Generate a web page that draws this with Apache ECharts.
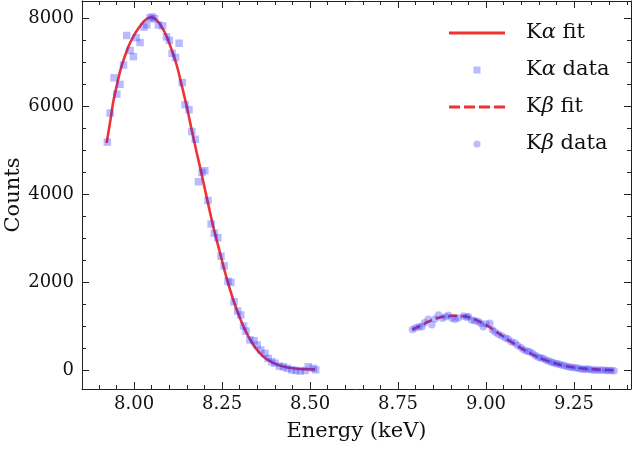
<!DOCTYPE html>
<html>
<head>
<meta charset="utf-8">
<script src="https://cdn.jsdelivr.net/npm/echarts@6/dist/echarts.min.js"></script>
<style>
  html, body { margin: 0; padding: 0; background: #fff; }
  #main { width: 640px; height: 449px; }
</style>
</head>
<body>
<div id="main"></div>
<script>
// K-alpha fit curve [energy keV, counts]
const kaFit = [
  [7.922, 5170], [7.932, 5650], [7.941, 6110], [7.951, 6480], [7.960, 6790],
  [7.970, 7050], [7.984, 7360], [7.998, 7590], [8.013, 7780], [8.027, 7925],
  [8.041, 8010], [8.050, 8025], [8.064, 7960], [8.078, 7810], [8.093, 7580],
  [8.107, 7280], [8.121, 6940], [8.135, 6490], [8.149, 6020], [8.164, 5460],
  [8.178, 4950], [8.188, 4600], [8.206, 3950], [8.225, 3270], [8.244, 2680],
  [8.263, 2100], [8.282, 1605], [8.301, 1190], [8.320, 850], [8.339, 585],
  [8.358, 395], [8.377, 260], [8.405, 145], [8.433, 80], [8.462, 45],
  [8.491, 32], [8.514, 30]
];

// K-alpha measured points
const kaData = [
  [7.924, 5190], [7.932, 5850], [7.943, 6650], [7.951, 6280], [7.960, 6500],
  [7.970, 6940], [7.979, 7610], [7.989, 7270], [7.998, 7130], [8.006, 7560],
  [8.017, 7450], [8.028, 7800], [8.036, 7850], [8.045, 8010], [8.052, 8030],
  [8.058, 7990], [8.069, 7850], [8.081, 7830], [8.092, 7580], [8.100, 7500],
  [8.108, 7205], [8.118, 7110], [8.128, 7435], [8.137, 6540], [8.145, 6040],
  [8.156, 5925], [8.164, 5430], [8.174, 5255], [8.183, 4290], [8.193, 4500],
  [8.201, 4540], [8.210, 3865], [8.219, 3330], [8.228, 3120], [8.238, 3020],
  [8.247, 2600], [8.256, 2380], [8.267, 2030], [8.275, 2005], [8.284, 1565],
  [8.294, 1355], [8.303, 1265], [8.311, 1015], [8.318, 900], [8.329, 700],
  [8.341, 680], [8.350, 585], [8.360, 470], [8.372, 395], [8.381, 280],
  [8.391, 205], [8.400, 170], [8.413, 105], [8.424, 90], [8.435, 55],
  [8.448, 20], [8.460, 5], [8.472, -5], [8.486, 5], [8.495, 90],
  [8.509, 55], [8.516, 20]
];

// K-beta fit curve
const kbFit = [
  [8.790, 930], [8.810, 1010], [8.830, 1090], [8.850, 1160], [8.870, 1210],
  [8.890, 1240], [8.910, 1250], [8.930, 1245], [8.950, 1220], [8.970, 1160],
  [8.990, 1080], [9.010, 990], [9.030, 880], [9.050, 770], [9.070, 660],
  [9.090, 560], [9.110, 460], [9.130, 375], [9.150, 300], [9.170, 235],
  [9.190, 180], [9.210, 135], [9.230, 100], [9.250, 75], [9.270, 55],
  [9.290, 40], [9.310, 30], [9.330, 20], [9.350, 15], [9.364, 12]
];

// K-beta measured points
const kbData = [
  [8.791, 935], [8.800, 975], [8.810, 1000], [8.818, 1000], [8.825, 1090],
  [8.836, 1170], [8.846, 1045], [8.855, 1175], [8.865, 1265], [8.876, 1190],
  [8.885, 1225], [8.893, 1260], [8.903, 1190], [8.912, 1170], [8.921, 1195],
  [8.936, 1245], [8.945, 1215], [8.950, 1230], [8.959, 1150], [8.968, 1135],
  [8.978, 1120], [8.985, 1080], [8.992, 1000], [9.000, 1060], [9.011, 1075],
  [9.018, 930], [9.026, 880], [9.035, 830], [9.045, 790], [9.055, 740],
  [9.063, 720], [9.072, 660], [9.082, 630], [9.090, 570], [9.100, 520],
  [9.108, 470], [9.117, 440], [9.124, 430], [9.133, 390], [9.141, 340],
  [9.149, 305], [9.156, 290], [9.163, 280], [9.171, 240], [9.178, 220],
  [9.186, 195], [9.192, 180], [9.200, 160], [9.207, 150], [9.214, 130],
  [9.222, 120], [9.230, 95], [9.238, 85], [9.246, 75], [9.254, 65],
  [9.262, 55], [9.270, 40], [9.278, 35], [9.285, 40], [9.292, 35],
  [9.300, 20], [9.308, 15], [9.316, 18], [9.324, 12], [9.333, 15],
  [9.341, 5], [9.348, 5], [9.356, 3], [9.364, 2]
];

// ticks
const xMajor = [8.00, 8.25, 8.50, 8.75, 9.00, 9.25];
const xMinor = [7.90, 7.95, 8.05, 8.10, 8.15, 8.20, 8.30, 8.35, 8.40, 8.45, 8.55, 8.60,
  8.65, 8.70, 8.80, 8.85, 8.90, 8.95, 9.05, 9.10, 9.15, 9.20, 9.30, 9.35, 9.40];
const yMajor = [0, 2000, 4000, 6000, 8000];
const yMinor = [500, 1000, 1500, 2500, 3000, 3500, 4500, 5000, 5500, 6500, 7000, 7500];

const xRange = [7.852, 9.412];
const yRange = [-415, 8393];

const serif = 'DejaVu Serif';
const axisColor = '#222';
const red = '#ee3333';
const blue = 'rgba(50, 50, 255, 0.42)';

function xAx(pos, ticks, len, showLine, labels) {
  return {
    type: 'value', position: pos, min: xRange[0], max: xRange[1],
    axisLine: { show: showLine, onZero: false, lineStyle: { color: axisColor, width: 1 } },
    axisTick: { show: true, inside: true, length: len, customValues: ticks,
      lineStyle: { color: axisColor, width: 1 } },
    axisLabel: labels ? {
      show: true, customValues: ticks, margin: 6, color: '#111',
      fontFamily: serif, fontSize: 18, formatter: v => v.toFixed(2)
    } : { show: false },
    splitLine: { show: false }
  };
}

function yAx(pos, ticks, len, showLine, labels) {
  return {
    type: 'value', position: pos, min: yRange[0], max: yRange[1],
    axisLine: { show: showLine, onZero: false, lineStyle: { color: axisColor, width: 1 } },
    axisTick: { show: true, inside: true, length: len, customValues: ticks,
      lineStyle: { color: axisColor, width: 1 } },
    axisLabel: labels ? {
      show: true, customValues: ticks, margin: 8, color: '#111',
      fontFamily: serif, fontSize: 18, formatter: v => String(v)
    } : { show: false },
    splitLine: { show: false }
  };
}

const xAxes = [
  xAx('bottom', xMajor, 7, true, true),
  xAx('bottom', xMinor, 4, false, false),
  xAx('top', xMajor, 7, true, false),
  xAx('top', xMinor, 4, false, false)
];
Object.assign(xAxes[0], {
  name: 'Energy (keV)', nameLocation: 'middle', nameGap: 32,
  nameTextStyle: { fontFamily: serif, fontSize: 21, color: '#111' }
});

const yAxes = [
  yAx('left', yMajor, 7, true, true),
  yAx('left', yMinor, 4, false, false),
  yAx('right', yMajor, 7, true, false),
  yAx('right', yMinor, 4, false, false)
];
Object.assign(yAxes[0], {
  name: 'Counts', nameLocation: 'middle', nameGap: 58, nameMoveOverlap: false,
  nameTextStyle: { fontFamily: serif, fontSize: 21, color: '#111' }
});

const fmt = name => name.replace(/([αβ])/, '{g|$1}');
const solidIcon = 'path://M0,0h56v3h-56z';
const dashIcon = 'path://M0,0h11v3h-11z M15,0h11v3h-11z M30,0h11v3h-11z M45,0h11v3h-11z';

// one legend per row so icons can differ in size
function legendRow(name, centerY, icon, isLine) {
  const w = isLine ? 56 : 7;
  const h = isLine ? 3 : 7;
  const left = isLine ? 449 : 477 - w / 2;
  const pad = 526 - left - w - 5;
  return {
    data: [{ name: name, icon: icon }],
    left: left, top: centerY - 12, padding: 0,
    itemWidth: w, itemHeight: h, symbolKeepAspect: false,
    formatter: fmt, selectedMode: false,
    textStyle: {
      fontFamily: serif, fontSize: 21, color: '#111', lineHeight: 24,
      padding: [0, 0, 0, pad],
      rich: { g: { fontFamily: serif, fontSize: 21, fontStyle: 'italic', color: '#111', lineHeight: 24 } }
    }
  };
}

const chart = echarts.init(document.getElementById('main'), null, { renderer: 'canvas' });
chart.setOption({
  animation: false,
  backgroundColor: '#fff',
  grid: { left: 82, right: 9, top: 1, bottom: 60, containLabel: false, outerBoundsMode: 'none' },
  xAxis: xAxes,
  yAxis: yAxes,
  legend: [
    legendRow('Kα fit', 33, solidIcon, true),
    legendRow('Kα data', 70, 'rect', false),
    legendRow('Kβ fit', 107, dashIcon, true),
    legendRow('Kβ data', 144, 'circle', false)
  ],
  series: [
    {
      name: 'Kα fit', type: 'line', data: kaFit, smooth: 0.3,
      showSymbol: false, symbol: 'none', z: 2,
      lineStyle: { color: red, width: 2.6 }, itemStyle: { color: red }
    },
    {
      name: 'Kβ fit', type: 'line', data: kbFit, smooth: 0.3,
      showSymbol: false, symbol: 'none', z: 2,
      lineStyle: { color: red, width: 2.6, type: [9, 4] }, itemStyle: { color: red }
    },
    {
      name: 'Kα data', type: 'scatter', data: kaData, symbol: 'rect', symbolSize: 7.5, z: 3,
      itemStyle: { color: blue }
    },
    {
      name: 'Kβ data', type: 'scatter', data: kbData, symbol: 'circle', symbolSize: 7.5, z: 3,
      itemStyle: { color: blue }
    }
  ]
});
</script>
</body>
</html>
